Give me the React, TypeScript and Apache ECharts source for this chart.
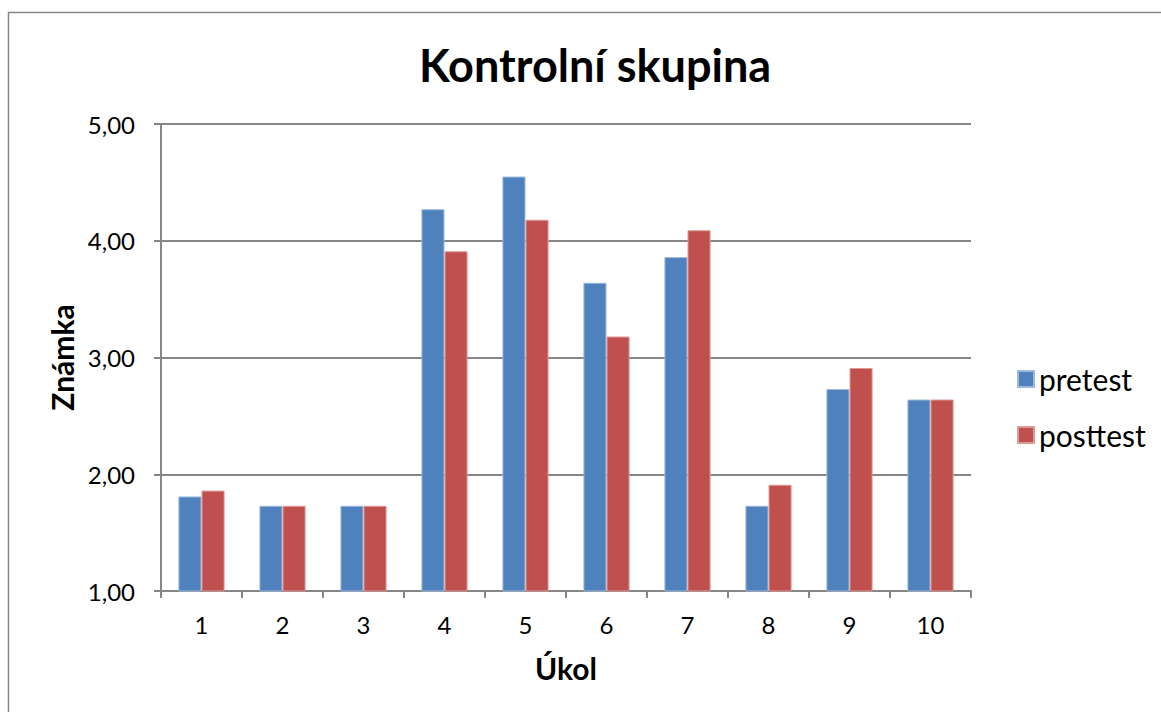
import React, { useEffect, useRef } from "react";
import * as echarts from "echarts";

const categories = ["1", "2", "3", "4", "5", "6", "7", "8", "9", "10"];
const pretest = [1.81, 1.73, 1.73, 4.27, 4.55, 3.64, 3.86, 1.73, 2.73, 2.64];
const posttest = [1.86, 1.73, 1.73, 3.91, 4.18, 3.18, 4.09, 1.91, 2.91, 2.64];
const seriesNames = ["pretest", "posttest"];

const FONT = "Lato, 'Open Sans', sans-serif";

export default function App() {
  const ref = useRef<HTMLDivElement>(null);
  useEffect(() => {
    if (!ref.current) return;
    const chart = echarts.init(ref.current, null, { renderer: "svg" });
    chart.setOption({
      animation: false,
      textStyle: { fontFamily: FONT },
      title: {
        text: "Kontrolní skupina",
        left: 590,
        textAlign: "center",
        top: 37,
        textStyle: { fontSize: 45, fontWeight: "bold", color: "#000", fontFamily: FONT },
      },
      graphic: [
        {
          type: "rect",
          shape: { x: 8.5, y: 12.5, width: 1160, height: 710 },
          style: { fill: "none", stroke: "#878787", lineWidth: 1.5 },
          silent: true,
        },
      ],
      legend: {
        orient: "vertical",
        left: 1012,
        top: 359,
        itemWidth: 16,
        itemHeight: 16,
        itemGap: 26,
        icon: "rect",
        textStyle: { fontSize: 30, color: "#000", fontFamily: FONT },
        data: seriesNames,
      },
      grid: { left: 161, right: 190, top: 124, bottom: 121 },
      xAxis: {
        type: "category",
        data: categories,
        name: "Úkol",
        nameLocation: "middle",
        nameGap: 62,
        nameTextStyle: { fontSize: 30, fontWeight: "bold", color: "#000", fontFamily: FONT },
        axisLine: { lineStyle: { color: "#868686", width: 2 } },
        axisTick: { show: true, length: 7, lineStyle: { color: "#868686", width: 2 } },
        axisLabel: { fontSize: 24, color: "#000", margin: 21, fontFamily: FONT },
      },
      yAxis: {
        type: "value",
        min: 1,
        max: 5,
        interval: 1,
        name: "Známka",
        nameLocation: "middle",
        nameGap: 84,
        nameTextStyle: { fontSize: 30, fontWeight: "bold", color: "#000", fontFamily: FONT },
        axisLine: { show: true, lineStyle: { color: "#868686", width: 2 } },
        axisTick: { show: true, length: 7, lineStyle: { color: "#868686", width: 2 } },
        splitLine: { show: true, lineStyle: { color: "#868686", width: 2 } },
        axisLabel: {
          fontSize: 24,
          color: "#000",
          margin: 26,
          fontFamily: FONT,
          formatter: (v: number) => v.toFixed(2).replace(".", ","),
        },
      },
      series: [
        {
          name: seriesNames[0],
          type: "bar",
          data: pretest,
          barGap: "0%",
          barCategoryGap: "43%",
          itemStyle: { color: "#4F81BD", borderColor: "#9DB9DD", borderWidth: 1 },
        },
        {
          name: seriesNames[1],
          type: "bar",
          data: posttest,
          barGap: "0%",
          barCategoryGap: "43%",
          itemStyle: { color: "#C0504D", borderColor: "#DE9A98", borderWidth: 1 },
        },
      ],
    });
    return () => chart.dispose();
  }, []);
  return (
    <div
      ref={ref}
      style={{ position: "absolute", left: 0, top: 0, width: 1161, height: 712 }}
    />
  );
}
